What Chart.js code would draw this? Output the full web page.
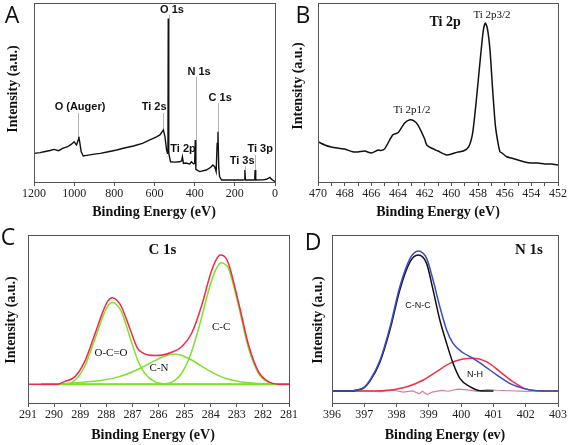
<!DOCTYPE html>
<html>
<head>
<meta charset="utf-8">
<title>XPS spectra</title>
<script src="https://cdn.jsdelivr.net/npm/chart.js@4.4.1/dist/chart.umd.min.js"></script>
<style>
  html, body { margin: 0; padding: 0; background: #fff; }
  body { width: 569px; height: 445px; position: relative; overflow: hidden; }
  canvas { position: absolute; }
</style>
</head>
<body>
<canvas id="chartA" width="285" height="225" style="left:0;top:0"></canvas>
<canvas id="chartB" width="284" height="225" style="left:285px;top:0"></canvas>
<canvas id="chartC" width="300" height="220" style="left:0;top:225px"></canvas>
<canvas id="chartD" width="269" height="220" style="left:300px;top:225px"></canvas>
<script>
// ---- Panel A: survey spectrum ----
const surveyEnergy = [1200, 1170, 1150, 1120, 1100, 1077, 1060, 1033, 1015, 1000, 992, 988, 980, 977, 972, 965, 955, 930, 900, 870, 830, 788, 750, 705, 660, 623, 590, 573, 556, 548, 540, 535, 533, 531.5, 530, 528, 520, 500, 474, 465, 461, 456, 445, 424, 416, 405, 400, 397, 394, 375, 342, 320, 309, 300, 293, 288, 284, 280, 276, 266, 220, 159, 152, 150, 147, 105, 101, 99, 96, 60, 42, 25, 18, 12, 0];
const surveyIntensity = [16.0, 16.4, 16.9, 17.6, 18.2, 17.5, 18.6, 19.7, 21.0, 22.5, 21.2, 20.7, 23.5, 25.3, 22.0, 16.9, 14.5, 15.0, 15.6, 16.0, 16.9, 17.9, 19.0, 20.1, 21.6, 23.5, 25.2, 26.3, 29.1, 25.3, 17.9, 16.0, 17.0, 91.4, 50.0, 16.0, 11.3, 11.1, 11.3, 11.8, 14.1, 10.4, 10.6, 10.1, 11.3, 10.1, 10.5, 23.5, 7.1, 5.8, 6.7, 8.2, 9.5, 8.5, 5.8, 21.6, 28.1, 8.0, 3.0, 1.1, 1.1, 1.1, 1.3, 6.7, 1.1, 1.1, 1.3, 6.7, 1.1, 1.2, 1.5, 2.6, 1.6, 1.1, 0.2];
const surveyTickLabels = [1200, 1000, 800, 600, 400, 200, 0];

// ---- Panel B: Ti 2p ----
const ti2pEnergy = [470, 469.5, 469, 468, 467.4, 467, 466.5, 466, 465.5, 465.3, 465, 464.4, 464, 463.5, 463.1, 462.8, 462.5, 462, 461.85, 461.5, 461, 460.35, 460, 459.5, 459.1, 458.7, 458.4, 458.1, 457.8, 457.6, 457.45, 457.3, 457.1, 456.9, 456.7, 456.5, 456.35, 456.2, 455.85, 455.5, 455, 454.5, 454, 453.5, 453, 452.5, 452];
const ti2pIntensity = [22.5, 20.7, 19.6, 18.4, 16.9, 16.8, 17.3, 16.2, 17.9, 17.6, 18.5, 26.3, 27.5, 33.0, 34.8, 34.1, 31.8, 24.0, 20.7, 19.0, 17.3, 15.1, 15.6, 16.8, 17.3, 19.6, 27.4, 47.6, 70.9, 84.9, 88.8, 86.0, 73.7, 51.4, 31.8, 21.8, 16.9, 16.2, 14.1, 13.4, 12.3, 11.2, 10.6, 10.6, 10.1, 10.1, 9.5];
const ti2pTickLabels = [470, 468, 466, 464, 462, 460, 458, 456, 454, 452];

// ---- Panel C: C 1s fit ----
const c1sEnvEnergy = [291, 290, 289.85, 289.6, 289.2, 288.83, 288.45, 288.13, 287.95, 287.77, 287.6, 287.42, 287.1, 286.8, 286.6, 286.4, 286.1, 285.83, 285.5, 285.11, 284.73, 284.34, 284.02, 283.8, 283.64, 283.5, 283.32, 282.94, 282.55, 282.17, 281.79, 281.4, 281];
const c1sEnvelope = [11.1, 11.1, 11.2, 12.7, 15.7, 24.6, 40.5, 54.4, 60.5, 62.7, 61.3, 57.3, 44.4, 32.5, 29.8, 28.6, 28.3, 28.6, 30.2, 33.5, 41.5, 58.3, 76.2, 85.0, 88.1, 87.6, 83.1, 60.3, 34.5, 18.7, 12.7, 11.2, 11.1];
const ocoEnergy = [290.5, 289.5, 289.2, 288.83, 288.45, 288.13, 287.95, 287.77, 287.6, 287.42, 287.1, 286.8, 286.53, 286.15, 285.7, 285.3, 281];
const ocoIntensity = [11.1, 11.2, 13.5, 21.6, 37.5, 51.4, 57.5, 60.0, 58.5, 54.4, 39.5, 25.6, 17.7, 12.7, 11.3, 11.1, 11.1];
const cnEnergy = [290.5, 289.5, 288.8, 288.3, 287.8, 287.2, 286.66, 286.1, 285.7, 285.4, 285.1, 284.73, 284.1, 283.45, 282.7, 282, 281];
const cnIntensity = [11.1, 11.6, 12.5, 13.3, 14.5, 17.3, 21.0, 25.5, 28.3, 29.2, 28.3, 25.6, 19.6, 14.7, 12.3, 11.4, 11.1];
const ccEnergy = [290.5, 286, 285.6, 285.36, 285.11, 284.73, 284.34, 284.02, 283.8, 283.6, 283.4, 283.32, 282.94, 282.55, 282.17, 281.79, 281.4, 281];
const ccIntensity = [11.1, 11.1, 11.8, 13.7, 17.7, 30.6, 51.4, 70.2, 79.5, 83.5, 82.0, 80.2, 58.3, 32.5, 17.7, 12.3, 11.2, 11.1];
const c1sBaseEnergy = [290.5, 281];
const c1sBase = [11.1, 11.1];
const c1sTickLabels = [291, 290, 289, 288, 287, 286, 285, 284, 283, 282, 281];

// ---- Panel D: N 1s fit ----
const n1sEnvEnergy = [396, 396.56, 396.76, 397.0, 397.18, 397.49, 397.8, 398.1, 398.42, 398.67, 398.93, 399.13, 399.34, 399.55, 399.75, 400.06, 400.37, 400.68, 401.1, 401.5, 401.92, 402.33, 403];
const n1sEnvelope = [7.1, 7.1, 7.7, 9.5, 13.7, 25.6, 45.4, 69.2, 86.1, 90.5, 86.1, 73.2, 57.3, 43.5, 35.5, 29.9, 26.6, 22.6, 16.7, 11.7, 8.7, 7.3, 7.1];
const cncEnergy = [396, 396.56, 396.76, 397.0, 397.18, 397.49, 397.8, 398.1, 398.42, 398.67, 398.93, 399.13, 399.34, 399.55, 399.75, 399.96, 400.27, 400.58, 401];
const cncIntensity = [7.1, 7.1, 7.6, 9.2, 13.2, 24.6, 43.8, 67.3, 84.1, 88.1, 83.1, 67.3, 49.4, 35.5, 23.6, 14.7, 9.7, 7.3, 7.1];
const nhEnergy = [396, 397.3, 397.8, 398.32, 398.83, 399.24, 399.65, 400.06, 400.37, 400.78, 401.2, 401.6, 402.0, 402.5, 403];
const nhIntensity = [7.1, 7.1, 7.7, 9.7, 13.7, 18.7, 23.6, 26.2, 26.6, 24.6, 18.7, 12.7, 8.4, 7.2, 7.1];
const residEnergy = [396, 396.5, 397, 397.5, 397.9, 398.2, 398.5, 398.7, 398.8, 398.95, 399.1, 399.4, 399.6, 399.9, 400.2, 400.5, 400.8, 401.1, 401.5, 402, 402.5, 403];
const residIntensity = [7.4, 7.0, 7.3, 6.8, 7.6, 6.5, 7.2, 5.5, 7.0, 5.0, 6.5, 7.5, 7.0, 8.2, 7.8, 6.9, 8.0, 7.6, 7.3, 6.9, 7.2, 7.0];
const n1sTickLabels = [396, 397, 398, 399, 400, 401, 402, 403];

const toPoints = (xs, ys) => xs.map((e, i) => ({ x: e, y: ys[i] }));

// frame, titles, peak labels and leader lines
const panelDecor = {
    id: 'panelDecor',
    beforeDatasetsDraw(chart, args, o) {
        const { ctx, scales: { x, y } } = chart;
        ctx.save();
        ctx.strokeStyle = '#b4b4b4';
        ctx.lineWidth = 1;
        (o.leaders || []).forEach(l => {
            const px = Math.round(x.getPixelForValue(l.e)) + 0.5;
            ctx.beginPath();
            ctx.moveTo(px, y.getPixelForValue(l.from));
            ctx.lineTo(px, y.getPixelForValue(l.to));
            ctx.stroke();
        });
        ctx.restore();
    },
    afterDatasetsDraw(chart, args, o) {
        const { ctx, chartArea: a, scales: { x, y } } = chart;
        ctx.save();
        ctx.strokeStyle = '#555';
        ctx.lineWidth = 1;
        ctx.strokeRect(a.left + 0.5, a.top + 0.5, a.width, a.height);

        ctx.fillStyle = '#111';
        ctx.textAlign = 'center';
        ctx.textBaseline = 'middle';
        (o.labels || []).forEach(t => {
            ctx.font = t.font;
            ctx.fillText(t.text, x.getPixelForValue(t.e), y.getPixelForValue(t.v));
        });

        ctx.font = 'bold 14px "Liberation Serif"';
        ctx.fillText(o.xTitle, o.xTitlePos[0], o.xTitlePos[1]);
        ctx.save();
        ctx.translate(o.yTitlePos[0], o.yTitlePos[1]);
        ctx.rotate(-Math.PI / 2);
        ctx.fillText('Intensity (a.u.)', 0, 0);
        ctx.restore();

        ctx.font = '23px "Open Sans"';
        ctx.textBaseline = 'alphabetic';
        ctx.fillText(o.letter, o.letterPos[0], o.letterPos[1]);
        ctx.restore();
    }
};

function makeSpectrum(id, cfg) {
    const ctx = document.getElementById(id).getContext('2d');
    return new Chart(ctx, {
        type: 'line',
        data: { datasets: cfg.datasets },
        options: {
            responsive: false,
            animation: false,
            layout: { padding: cfg.padding },
            elements: { point: { radius: 0 } },
            plugins: {
                legend: { display: false },
                tooltip: { enabled: false },
                panelDecor: cfg.decor
            },
            scales: {
                x: {
                    type: 'linear',
                    min: cfg.min,
                    max: cfg.max,
                    reverse: cfg.reverse,
                    afterFit: s => { s.height = 40; },
                    ticks: {
                        stepSize: cfg.step,
                        autoSkip: false,
                        maxRotation: 0,
                        padding: 1,
                        color: '#222',
                        font: { family: 'Liberation Serif', size: 12 },
                        callback: v => cfg.tickLabels.includes(v) ? String(v) : ''
                    },
                    grid: { drawOnChartArea: false, drawTicks: true, tickLength: 4, color: '#555' },
                    border: { display: false }
                },
                y: { display: false, min: 0, max: 100 }
            }
        },
        plugins: [panelDecor]
    });
}

const lineStyle = (color, width) => ({
    borderColor: color,
    borderWidth: width,
    pointRadius: 0,
    fill: false
});

document.addEventListener('DOMContentLoaded', function () {
    // A - survey
    makeSpectrum('chartA', {
        min: 0, max: 1200, reverse: true, step: 200,
        tickLabels: surveyTickLabels,
        padding: { left: 34, right: 10, top: 3, bottom: 3 },
        datasets: [
            { ...lineStyle('#111', 1.4), data: toPoints(surveyEnergy, surveyIntensity), tension: 0 }
        ],
        decor: {
            letter: 'A', letterPos: [12, 23],
            xTitle: 'Binding Energy (eV)', xTitlePos: [154, 212],
            yTitlePos: [13, 89],
            leaders: [
                { e: 979, from: 38.5, to: 25.3 },
                { e: 556, from: 38.5, to: 29.0 },
                { e: 528, from: 93.3, to: 91.4 },
                { e: 395, from: 58.7, to: 23.5 },
                { e: 282, from: 44.1, to: 28.0 },
                { e: 149, from: 8.9, to: 6.7 },
                { e: 100, from: 15.1, to: 6.7 }
            ],
            labels: [
                { text: 'O (Auger)', e: 971, v: 41.9, font: 'bold 11px "Liberation Sans"' },
                { text: 'Ti 2s', e: 602, v: 41.9, font: 'bold 11px "Liberation Sans"' },
                { text: 'O 1s', e: 513, v: 96.1, font: 'bold 11px "Liberation Sans"' },
                { text: 'N 1s', e: 378, v: 61.5, font: 'bold 11px "Liberation Sans"' },
                { text: 'C 1s', e: 273, v: 46.9, font: 'bold 11px "Liberation Sans"' },
                { text: 'Ti 2p', e: 458, v: 18.4, font: 'bold 11px "Liberation Sans"' },
                { text: 'Ti 3s', e: 164, v: 11.7, font: 'bold 11px "Liberation Sans"' },
                { text: 'Ti 3p', e: 74, v: 18.4, font: 'bold 11px "Liberation Sans"' }
            ]
        }
    });

    // B - Ti 2p
    makeSpectrum('chartB', {
        min: 452, max: 470, reverse: true, step: 1,
        tickLabels: ti2pTickLabels,
        padding: { left: 33, right: 11, top: 3, bottom: 3 },
        datasets: [
            { ...lineStyle('#111', 1.5), data: toPoints(ti2pEnergy, ti2pIntensity), tension: 0.2 }
        ],
        decor: {
            letter: 'B', letterPos: [18, 23],
            xTitle: 'Binding Energy (eV)', xTitlePos: [153, 212],
            yTitlePos: [13, 86],
            labels: [
                { text: 'Ti 2p', e: 460.47, v: 89.4, font: 'bold 14px "Liberation Serif"' },
                { text: 'Ti 2p3/2', e: 456.95, v: 93.3, font: '11px "Liberation Serif"' },
                { text: 'Ti 2p1/2', e: 462.95, v: 40.2, font: '11px "Liberation Serif"' }
            ]
        }
    });

    // C - C 1s
    const green = '#7fe02e';
    makeSpectrum('chartC', {
        min: 281, max: 291, reverse: true, step: 1,
        tickLabels: c1sTickLabels,
        padding: { left: 28, right: 11, top: 10, bottom: 2 },
        datasets: [
            { ...lineStyle('#f2284a', 1.5), data: toPoints(c1sEnvEnergy, c1sEnvelope), cubicInterpolationMode: 'monotone' },
            { ...lineStyle(green, 1.5), data: toPoints(ocoEnergy, ocoIntensity), cubicInterpolationMode: 'monotone' },
            { ...lineStyle(green, 1.5), data: toPoints(cnEnergy, cnIntensity), cubicInterpolationMode: 'monotone' },
            { ...lineStyle(green, 1.5), data: toPoints(ccEnergy, ccIntensity), cubicInterpolationMode: 'monotone' },
            { ...lineStyle(green, 2), data: toPoints(c1sBaseEnergy, c1sBase) }
        ],
        decor: {
            letter: 'C', letterPos: [8, 20],
            xTitle: 'Binding Energy (eV)', xTitlePos: [153, 210],
            yTitlePos: [11, 95],
            labels: [
                { text: 'C 1s', e: 285.85, v: 91, font: 'bold 15px "Liberation Serif"' },
                { text: 'O-C=O', e: 287.82, v: 29.8, font: '11px "Liberation Serif"' },
                { text: 'C-N', e: 285.98, v: 20.8, font: '11px "Liberation Serif"' },
                { text: 'C-C', e: 283.6, v: 45.2, font: '11px "Liberation Serif"' }
            ]
        }
    });

    // D - N 1s
    makeSpectrum('chartD', {
        min: 396, max: 403, reverse: false, step: 1,
        tickLabels: n1sTickLabels,
        padding: { left: 32, right: 11, top: 10, bottom: 2 },
        datasets: [
            { ...lineStyle('#3a4cc6', 1.5), data: toPoints(n1sEnvEnergy, n1sEnvelope), cubicInterpolationMode: 'monotone' },
            { ...lineStyle('#111', 1.5), data: toPoints(cncEnergy, cncIntensity), cubicInterpolationMode: 'monotone' },
            { ...lineStyle('#f0304a', 1.5), data: toPoints(nhEnergy, nhIntensity), cubicInterpolationMode: 'monotone' },
            { ...lineStyle('rgba(208, 100, 150, 0.85)', 1.2), data: toPoints(residEnergy, residIntensity), tension: 0 }
        ],
        decor: {
            letter: 'D', letterPos: [13, 25],
            xTitle: 'Binding Energy (ev)', xTitlePos: [145, 210],
            yTitlePos: [18, 95],
            labels: [
                { text: 'N 1s', e: 402.1, v: 91, font: 'bold 15px "Liberation Serif"' },
                { text: 'C-N-C', e: 398.66, v: 58.3, font: '9px "Liberation Sans"' },
                { text: 'N-H', e: 400.43, v: 16.7, font: '9px "Liberation Sans"' }
            ]
        }
    });
});
</script>
</body>
</html>
